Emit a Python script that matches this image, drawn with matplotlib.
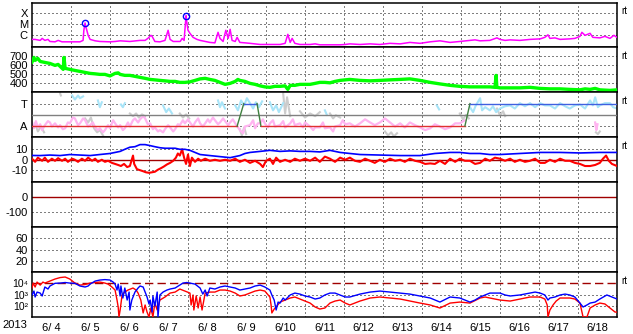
import numpy as np
import matplotlib
matplotlib.use("Agg")
import matplotlib.pyplot as plt

plt.rcParams['font.family'] = ['Liberation Sans', 'DejaVu Sans']
plt.rcParams['axes.unicode_minus'] = False

# ---------------- data (time in days since 2013-06-04 00:00) ----------------
year_label = '2013'
day_labels = ['6/ 4', '6/ 5', '6/ 6', '6/ 7', '6/ 8', '6/ 9', '6/10', '6/11',
              '6/12', '6/13', '6/14', '6/15', '6/16', '6/17', '6/18']

# Panel 1: X-ray flux (W/m2)
xray_t = [0.00, 0.08, 0.21, 0.26, 0.33, 0.41, 0.46, 0.59, 0.67, 0.77, 0.97, 1.10, 1.23, 1.31,
          1.33, 1.36, 1.385, 1.44, 1.49, 1.62, 1.74, 2.00, 2.13, 2.26, 2.51, 2.77, 2.90, 2.97,
          3.05, 3.08, 3.15, 3.28, 3.41, 3.49, 3.54, 3.62, 3.80, 3.85, 3.90, 3.92, 3.95, 3.97,
          4.00, 4.05, 4.13, 4.23, 4.31, 4.56, 4.69, 4.77, 4.82, 4.90, 4.97, 5.03, 5.08, 5.13,
          5.21, 5.26, 5.33, 5.46, 5.59, 5.85, 6.10, 6.36, 6.49, 6.56, 6.62, 6.67, 6.74, 6.87,
          7.13, 7.26, 7.38, 7.64, 7.90, 8.03, 8.15, 8.41, 8.67, 8.92, 9.18, 9.44, 9.69, 9.95,
          10.21, 10.46, 10.72, 10.97, 11.23, 11.36, 11.49, 11.74, 11.92, 12.00, 12.13, 12.26,
          12.51, 12.77, 13.03, 13.15, 13.23, 13.28, 13.41, 13.54, 13.79, 13.92, 14.05, 14.10,
          14.18, 14.31, 14.38, 14.56, 14.69, 14.82, 14.92, 15.00]
xray_v = [4.3e-7, 4.3e-7, 3.5e-7, 5.3e-7, 3.5e-7, 4.3e-7, 2.8e-7, 2.6e-7, 3.5e-7, 2.6e-7, 2.6e-7,
          2.6e-7, 2.6e-7, 3.5e-7, 2.85e-6, 1.3e-5, 5.3e-6, 1.0e-6, 4.3e-7, 3.2e-7, 2.8e-7, 2.6e-7,
          2.8e-7, 3.2e-7, 2.8e-7, 3.5e-7, 3.5e-7, 5.3e-7, 1.0e-6, 8.1e-7, 2.8e-7, 2.6e-7, 3.5e-7,
          2.85e-6, 4.3e-7, 2.8e-7, 2.8e-7, 5.3e-7, 3.5e-7, 2.85e-6, 5.9e-5, 1.5e-5, 2.85e-6,
          1.52e-6, 6.6e-7, 4.3e-7, 3.5e-7, 2.3e-7, 2.1e-7, 1.87e-6, 5.3e-7, 2.8e-7, 2.85e-6,
          5.3e-7, 3.5e-6, 3.5e-7, 2.8e-7, 6.6e-7, 2.3e-7, 2.1e-7, 1.9e-7, 1.5e-7, 1.5e-7, 1.5e-7,
          1.9e-7, 1.23e-6, 2.3e-7, 5.3e-7, 1.9e-7, 1.5e-7, 1.5e-7, 1.7e-7, 1.4e-7, 1.4e-7, 1.4e-7,
          1.5e-7, 1.7e-7, 1.5e-7, 1.7e-7, 1.5e-7, 1.9e-7, 1.7e-7, 2.3e-7, 1.9e-7, 2.6e-7, 3.2e-7,
          2.3e-7, 2.8e-7, 3.5e-7, 3.9e-7, 3.2e-7, 3.5e-7, 5.9e-7, 4.3e-7, 3.5e-7, 3.9e-7, 3.5e-7,
          4.3e-7, 4.8e-7, 6.6e-7, 1.11e-6, 5.3e-7, 5.9e-7, 4.3e-7, 4.8e-7, 5.3e-7, 8.1e-7, 1.87e-6,
          1.0e-6, 1.52e-6, 6.6e-7, 5.9e-7, 8.1e-7, 5.3e-7, 1.0e-6, 6.6e-7]
flare_t = [1.36, 3.95]
flare_v = [1.3e-5, 5.9e-5]
xray_ticks = [1e-6, 1e-5, 1e-4]
xray_labels = ['C', 'M', 'X']

# Panel 2: solar wind speed (km/s)
speed_t = [0.00, 0.05, 0.08, 0.15, 0.21, 0.33, 0.46, 0.59, 0.67, 0.72, 0.80, 0.82, 0.85, 0.97,
           1.10, 1.23, 1.36, 1.49, 1.62, 1.74, 1.87, 2.00, 2.13, 2.21, 2.26, 2.38, 2.51, 2.64,
           2.77, 2.90, 3.03, 3.15, 3.28, 3.41, 3.54, 3.67, 3.79, 3.92, 4.05, 4.18, 4.31, 4.44,
           4.56, 4.69, 4.82, 4.95, 5.08, 5.21, 5.28, 5.33, 5.46, 5.59, 5.72, 5.85, 5.97, 6.10,
           6.23, 6.36, 6.49, 6.56, 6.62, 6.74, 6.87, 7.13, 7.26, 7.38, 7.51, 7.64, 7.77, 7.90,
           8.03, 8.15, 8.41, 8.67, 8.92, 9.18, 9.44, 9.69, 9.95, 10.21, 10.46, 10.72, 10.97,
           11.23, 11.49, 11.74, 11.87, 11.90, 11.92, 12.00, 12.26, 12.51, 12.77, 13.03, 13.28,
           13.54, 13.79, 14.05, 14.18, 14.31, 14.44, 14.56, 14.82, 15.00]
speed_v = [637, 689, 656, 678, 644, 633, 622, 600, 611, 589, 556, 689, 567, 556,
           544, 533, 522, 511, 506, 500, 500, 483, 511, 517, 500, 489, 489, 478,
           467, 456, 444, 439, 433, 428, 422, 422, 411, 411, 417, 433, 450, 456,
           444, 433, 411, 389, 400, 422, 444, 433, 422, 400, 389, 372, 361, 356,
           367, 367, 372, 333, 378, 378, 389, 389, 400, 411, 411, 406, 422, 433,
           439, 444, 433, 428, 433, 439, 444, 450, 433, 411, 394, 378, 367,
           361, 361, 361, 356, 489, 356, 350, 350, 350, 356, 344, 339,
           339, 333, 328, 339, 333, 344, 328, 322, 328]
speed_ticks = [400, 500, 600, 700]

# Panel 3: A / T indicator and scattered points (scaled 0..1)
state_levels = {'A': 0.25, 'T': 0.75}
state_t = [0.0, 5.26, 5.43, 5.77, 5.87, 11.10, 11.23, 15.0]
state_s = ['A', 'A', 'T', 'T', 'A', 'A', 'T', 'T']
mid_level = 0.5
pink_t = [0.00, 0.05, 0.10, 0.15, 0.21, 0.26, 0.33, 0.41, 0.46, 0.51, 0.59, 0.67, 0.72, 0.79,
          0.85, 0.92, 0.97, 1.05, 1.10, 1.18, 1.23, 1.31, 1.36, 1.44, 1.49, 1.56, 1.62, 1.69,
          1.74, 1.82, 1.87, 1.95, 2.00, 2.08, 2.13, 2.21, 2.26, 2.33, 2.38, 2.46, 2.51, 2.59,
          2.64, 2.72, 2.77, 2.85, 2.90, 2.97, 3.03, 3.10, 3.15, 3.23, 3.28, 3.36, 3.41, 3.49,
          3.54, 3.62, 3.67, 3.74, 3.79, 3.87, 3.92, 4.00, 4.05, 4.13, 4.18, 4.26, 4.31, 4.38,
          4.44, 4.51, 4.56, 4.64, 4.69, 4.77, 4.82, 4.90, 4.95, 5.03, 5.08, 5.15, 5.21, 5.33,
          5.41, 5.46, 5.59, 5.67, 5.72, 5.79, 5.85, 5.92, 5.97, 6.05, 6.10, 6.18, 6.23, 6.36,
          6.44, 6.49, 6.62, 6.69, 6.74, 6.87, 6.95, 7.00, 7.13, 7.21, 7.26, 7.38, 7.46, 7.51,
          7.64, 7.72, 7.77, 7.90, 7.97, 8.03, 8.15, 8.28, 8.41, 8.54, 8.67, 8.79, 8.92, 9.05,
          9.18, 9.31, 9.44, 9.56, 9.69, 9.82, 9.95, 10.08, 10.21, 10.33, 10.46, 10.59, 10.72,
          10.85, 10.97, 11.10, 11.11, 14.44, 14.47, 14.50]
pink_v = [0.33, 0.20, 0.36, 0.22, 0.29, 0.16, 0.27, 0.36, 0.33, 0.24, 0.31, 0.22, 0.27, 0.18,
          0.20, 0.33, 0.31, 0.44, 0.42, 0.27, 0.31, 0.42, 0.38, 0.24, 0.27, 0.33, 0.22, 0.16,
          0.20, 0.11, 0.16, 0.27, 0.20, 0.38, 0.31, 0.22, 0.27, 0.16, 0.20, 0.33, 0.24, 0.38,
          0.42, 0.33, 0.40, 0.47, 0.42, 0.29, 0.31, 0.18, 0.22, 0.13, 0.16, 0.11, 0.18, 0.27,
          0.22, 0.13, 0.18, 0.29, 0.27, 0.38, 0.31, 0.40, 0.33, 0.24, 0.33, 0.42, 0.31, 0.24,
          0.31, 0.40, 0.33, 0.44, 0.38, 0.29, 0.33, 0.42, 0.36, 0.27, 0.33, 0.40, 0.31, 0.16,
          0.09, 0.24, 0.27, 0.38, 0.20, 0.31, 0.31, 0.40, 0.31, 0.22, 0.31, 0.38, 0.24, 0.27,
          0.36, 0.22, 0.31, 0.40, 0.27, 0.31, 0.22, 0.33, 0.24, 0.16, 0.22, 0.22, 0.33, 0.20,
          0.22, 0.13, 0.24, 0.27, 0.38, 0.29, 0.31, 0.24, 0.31, 0.40, 0.33, 0.27, 0.33, 0.42,
          0.33, 0.24, 0.31, 0.22, 0.33, 0.27, 0.22, 0.16, 0.20, 0.29, 0.24, 0.18, 0.22,
          0.31, 0.31, 0.38, np.nan, 0.33, 0.16, 0.29]
lblue_t = [1.03, 1.10, 1.18, 1.23, 1.31, np.nan, 1.69, 1.74, 1.79, np.nan, 2.28, 2.33, 2.38,
           np.nan, 3.36, 3.44, 3.51, 3.59, np.nan, 4.77, 4.82, 4.87, 4.95, np.nan,
           5.21, 5.28, 5.36, 5.44, 5.51, 5.59, 5.67, 5.74, 5.82, 5.90, np.nan,
           6.10, 6.18, 6.26, 6.33, 6.44, np.nan, 7.51, 7.56, np.nan, 10.38, 10.44, np.nan,
           11.23, 11.31, 11.38, 11.49, 11.54, 11.62, 11.74, 11.82, 11.90, 12.00, 12.13, 12.26,
           12.38, 12.51, 12.64, 12.77, 12.90, 13.03, 13.15, 13.28, 13.41, 13.54, 13.67, 13.79,
           13.92, 14.05, 14.18, 14.31, 14.38, 14.44, 14.51, 14.56, 14.69, 14.82, 14.90, 15.00]
lblue_v = [0.93, 0.84, 0.93, 0.87, 0.91, np.nan, 0.82, 0.67, 0.78, np.nan, 0.73, 0.67, 0.76,
           np.nan, 0.71, 0.56, 0.64, 0.53, np.nan, 0.82, 0.67, 0.78, 0.64, np.nan,
           0.71, 0.60, 0.82, 0.71, 0.87, 0.76, 0.64, 0.78, 0.67, 0.80, np.nan,
           0.78, 0.60, 0.71, 0.56, 0.76, np.nan, 0.60, 0.50, np.nan, 0.71, 0.62, np.nan,
           0.67, 0.56, 0.71, 0.87, 0.60, 0.67, 0.60, 0.69, 0.56, 0.64, 0.69, 0.71,
           0.64, 0.76, 0.69, 0.76, 0.67, 0.76, 0.71, 0.71, 0.64, 0.76, 0.69, 0.64,
           0.71, 0.73, 0.64, 0.82, 0.71, 0.89, 0.67, 0.71, 0.76, 0.76, 0.67, 0.64]
gray_t = [0.08, 0.15, 0.23, 0.31, np.nan, 0.72, 0.74, np.nan, 1.36, 1.44, 1.51, 1.59, 1.67,
          1.74, 1.82, np.nan, 2.51, 2.59, 2.67, 2.74, 2.82, 2.90, np.nan, 3.79, 3.87, 3.95,
          4.03, np.nan, 5.33, 5.38, 5.44, 5.49, np.nan, 6.44, 6.49, 6.54, 6.62, np.nan,
          6.87, 7.00, 7.13, 7.26, 7.38, np.nan, 7.64, 7.72, 7.79, 7.90, np.nan,
          9.05, 9.13, 9.21, 9.28, 9.36, np.nan, 10.97, 11.05, 11.13, 11.20, np.nan,
          11.92, 12.00, 12.08, 12.13, np.nan, 14.46, 14.51, 14.56]
gray_v = [0.31, 0.13, 0.24, 0.11, np.nan, 0.98, 0.93, np.nan, 0.42, 0.33, 0.44, 0.20, 0.11,
          0.16, 0.04, np.nan, 0.53, 0.47, 0.53, 0.44, 0.51, 0.47, np.nan, 0.53, 0.44, 0.51,
          0.42, np.nan, 0.18, 0.04, 0.22, 0.07, np.nan, 0.98, 0.53, 0.89, 0.47, np.nan,
          0.58, 0.44, 0.53, 0.47, 0.56, np.nan, 0.53, 0.42, 0.49, 0.44, np.nan,
          0.13, 0.04, 0.11, 0.02, 0.09, np.nan, 0.53, 0.40, 0.50, 0.42, np.nan,
          0.64, 0.49, 0.58, 0.47, np.nan, 0.11, 0.07, 0.13]

# Panel 4: magnetic field Bt (blue) and Bz (red), nT
bt_t = [0.00, 0.21, 0.46, 0.72, 0.97, 1.23, 1.49, 1.74, 2.00, 2.13, 2.26, 2.38, 2.51, 2.64,
        2.77, 2.90, 3.03, 3.15, 3.28, 3.41, 3.54, 3.67, 3.79, 3.92, 4.05, 4.18, 4.31, 4.56,
        4.82, 5.08, 5.33, 5.46, 5.59, 5.85, 6.10, 6.36, 6.62, 6.87, 7.13, 7.38, 7.64, 7.90,
        8.15, 8.41, 8.92, 9.44, 9.95, 10.33, 10.72, 10.97, 11.23, 11.49, 11.74, 12.00,
        12.51, 13.03, 13.54, 14.05, 14.56, 15.00]
bt_v = [4.1, 4.0, 4.5, 4.0, 5.0, 4.5, 4.0, 5.0, 6.0, 7.0, 8.0, 10.0, 12.0, 12.5,
        14.5, 14.5, 13.5, 12.5, 11.5, 11.0, 11.0, 11.0, 10.0, 10.0, 9.0, 7.0, 5.0, 4.0,
        3.0, 2.0, 4.0, 6.0, 7.0, 8.0, 9.0, 8.0, 8.5, 8.0, 8.0, 7.5, 9.0, 7.0,
        6.0, 5.0, 4.5, 4.0, 4.0, 6.0, 7.0, 7.0, 6.0, 6.0, 5.0, 5.0,
        6.0, 7.0, 7.0, 6.5, 7.0, 7.0]
bz_t = [0.00, 0.08, 0.15, 0.26, 0.33, 0.41, 0.51, 0.59, 0.67, 0.77, 0.85, 0.92, 1.03, 1.10,
        1.18, 1.28, 1.36, 1.44, 1.54, 1.62, 1.69, 1.79, 1.87, 1.95, 2.05, 2.13, 2.21, 2.28,
        2.36, 2.44, 2.51, 2.59, 2.62, 2.69, 2.77, 2.85, 2.92, 3.00, 3.08, 3.15, 3.23, 3.31,
        3.38, 3.46, 3.54, 3.62, 3.69, 3.74, 3.79, 3.85, 3.90, 3.95, 4.00, 4.05, 4.10, 4.18,
        4.26, 4.33, 4.44, 4.56, 4.69, 4.82, 4.95, 5.08, 5.21, 5.33, 5.46, 5.59, 5.72, 5.85,
        5.92, 6.00, 6.10, 6.18, 6.26, 6.36, 6.49, 6.62, 6.74, 6.87, 7.00, 7.13, 7.26, 7.38,
        7.51, 7.64, 7.77, 7.90, 8.03, 8.15, 8.28, 8.41, 8.54, 8.67, 8.79, 8.92, 9.05, 9.18,
        9.31, 9.44, 9.56, 9.69, 9.82, 9.95, 10.08, 10.21, 10.33, 10.46, 10.59, 10.72, 10.85,
        10.97, 11.10, 11.23, 11.36, 11.49, 11.62, 11.74, 11.87, 12.00, 12.13, 12.26, 12.38,
        12.51, 12.64, 12.77, 12.90, 13.03, 13.15, 13.28, 13.41, 13.54, 13.67, 13.79, 13.92,
        14.05, 14.18, 14.31, 14.44, 14.56, 14.64, 14.72, 14.79, 14.87, 15.00]
bz_v = [1, -2, 2, -1, 2, -2, 1, -1, 1.5, -1, 1, -2, 1, 0,
        -2, 1, -1, 2, -1, 1, -2, 0, -2, -1, -3, -4, -5, -6,
        -4, -7, -6, 4, -4, -9, -10, -11, -12, -12.5, -12, -11.5, -9.5, -8,
        -6.5, -4.5, -3, -1, 2, 6, 4, 10, 2, -4, 5, -6, 2, -2,
        1, -1, 1, -1, 0, -1, 0, -1, 1, -2, 0, -3, -1, -4,
        -7, -1, 1, -4, 2, -2, 0, -2, 1, -1, 1, -1, 2, -2,
        3, 1, -2, 2, 0, 2, -1, -2, 1, -1, -3, 0, -2, 1,
        -1, 0, -2, 1, -1, -2, -4, -3.5, -4, -1, -4, 1, -2,
        1, -1, -1, -4, -3, 1, -1, 2, 1, -1, 1, -2,
        0, -2, -1, 1, -3, -3, 0, -2, 1, -1, -1, -3,
        -4, -6, -6, -5, -3, 1, 4, -1, -4, -6]
bfield_ticks = [-10, 0, 10]

# Panel 5 and 6: axis scales only
p5_ticks = [-100, 0]
p6_ticks = [20, 40, 60]

# Panel 7: electron flux (log10), blue and red satellites
eb_t = [0.00, 0.05, 0.08, 0.13, 0.21, 0.26, 0.33, 0.41, 0.46, 0.59, 0.72, 0.85, 0.97, 1.10,
        1.23, 1.36, 1.44, 1.49, 1.62, 1.74, 1.87, 2.00, 2.08, 2.13, 2.18, 2.21, 2.26, 2.28,
        2.33, 2.38, 2.44, 2.49, 2.51, 2.56, 2.64, 2.72, 2.77, 2.85, 2.90, 2.95, 3.00, 3.03,
        3.08, 3.10, 3.15, 3.21, 3.23, 3.28, 3.36, 3.46, 3.54, 3.67, 3.79, 3.87, 3.97, 4.05,
        4.18, 4.31, 4.38, 4.44, 4.49, 4.56, 4.69, 4.82, 4.95, 5.08, 5.21, 5.33, 5.46, 5.59,
        5.72, 5.85, 5.97, 6.10, 6.15, 6.21, 6.26, 6.31, 6.36, 6.44, 6.49, 6.62, 6.74, 6.87,
        7.00, 7.13, 7.26, 7.38, 7.51, 7.64, 7.77, 7.90, 8.03, 8.15, 8.41, 8.67, 8.92, 9.18,
        9.44, 9.69, 9.95, 10.21, 10.46, 10.72, 10.97, 11.23, 11.36, 11.49, 11.62, 11.74,
        12.00, 12.13, 12.26, 12.51, 12.77, 12.90, 13.03, 13.15, 13.23, 13.28, 13.41, 13.54,
        13.67, 13.79, 13.92, 14.05, 14.13, 14.23, 14.31, 14.44, 14.56, 14.74, 14.87, 15.00]
eb_log = [2.96, 3.31, 2.78, 3.22, 3.13, 2.87, 3.67, 3.49, 3.76, 4.00, 4.02, 4.07, 4.02, 4.00,
          3.76, 3.67, 3.76, 3.93, 4.20, 4.29, 4.33, 4.29, 4.11, 3.93, 3.40, 3.93, 2.87, 3.76,
          2.69, 3.58, 2.51, 3.22, 1.62, 2.51, 3.22, 3.58, 3.76, 3.67, 3.22, 2.78, 2.16, 2.51,
          1.44, 2.87, 1.98, 3.22, 1.00, 2.96, 3.22, 3.40, 3.49, 3.58, 3.84, 4.02, 4.07, 4.02,
          3.93, 3.58, 3.04, 3.40, 2.87, 3.58, 3.49, 3.67, 3.76, 3.67, 3.58, 3.40, 3.49, 3.58,
          3.76, 3.84, 3.67, 3.40, 2.96, 2.51, 1.62, 2.33, 2.24, 2.69, 2.51, 2.96, 3.13, 3.04,
          2.87, 2.78, 2.60, 2.69, 2.96, 3.13, 3.13, 2.96, 2.78, 2.78, 3.04, 3.22, 3.31, 3.22,
          3.13, 3.04, 2.87, 2.69, 2.33, 2.78, 2.69, 2.33, 2.51, 2.78, 2.96, 3.13,
          3.13, 2.96, 2.87, 2.96, 3.13, 3.22, 3.13, 2.96, 2.51, 2.69, 2.78, 2.96,
          3.04, 2.96, 2.78, 2.24, 1.89, 2.07, 2.24, 2.33, 2.60, 2.96, 2.78, 2.60]
er_t = [0.00, 0.03, 0.08, 0.13, 0.21, 0.28, 0.33, 0.46, 0.59, 0.72, 0.85, 0.97, 1.10, 1.23,
        1.36, 1.49, 1.62, 1.74, 1.87, 1.95, 2.05, 2.13, 2.18, 2.21, 2.23, 2.26, 2.31, 2.38,
        2.46, 2.59, 2.67, 2.72, 2.79, 2.85, 2.90, 2.95, 3.00, 3.05, 3.10, 3.15, 3.21, 3.28,
        3.41, 3.54, 3.67, 3.79, 3.92, 4.05, 4.08, 4.13, 4.15, 4.21, 4.26, 4.31, 4.36, 4.44,
        4.56, 4.69, 4.82, 4.95, 5.08, 5.21, 5.33, 5.46, 5.59, 5.72, 5.85, 5.97, 6.10, 6.13,
        6.15, 6.21, 6.26, 6.36, 6.49, 6.62, 6.74, 6.87, 7.00, 7.13, 7.26, 7.38, 7.51, 7.64,
        7.77, 7.90, 8.03, 8.15, 8.41, 8.67, 8.92, 9.18, 9.44, 9.69, 9.95, 10.21, 10.46, 10.72,
        10.97, 11.23, 11.49, 11.62, 11.74, 12.00, 12.26, 12.51, 12.77, 13.03, 13.15, 13.21,
        13.23, 13.28, 13.36, 13.44, 13.54, 13.79, 13.92, 14.05, 14.10, 14.13, 14.23, 14.31,
        14.44, 14.56, 14.69, 14.82, 14.95, 15.00]
er_log = [3.58, 4.02, 3.67, 4.11, 3.84, 4.11, 4.02, 4.20, 4.38, 4.51, 4.56, 4.38, 4.02, 3.84,
          3.89, 4.02, 4.07, 4.11, 4.02, 3.93, 3.67, 3.40, 2.51, 1.89, 1.00, 1.62, 2.96, 3.22,
          3.40, 3.58, 3.40, 3.13, 2.51, 1.36, 2.07, 1.44, 1.00, 1.80, 1.00, 2.24, 1.62, 2.51,
          2.78, 3.13, 3.22, 3.49, 3.31, 3.13, 2.07, 2.96, 1.62, 2.87, 1.80, 2.78, 1.62, 3.13,
          3.22, 3.22, 3.40, 3.40, 3.31, 3.13, 2.87, 2.96, 3.13, 3.31, 3.40, 3.31, 2.78, 2.07,
          1.36, 1.71, 1.89, 2.33, 2.51, 2.69, 2.78, 2.60, 2.42, 2.24, 1.89, 1.71, 1.80, 2.24,
          2.42, 2.51, 2.24, 2.07, 2.42, 2.69, 2.78, 2.69, 2.60, 2.42, 2.24, 2.07, 1.80, 2.24,
          2.33, 2.24, 2.69, 2.78, 2.69, 2.51, 2.42, 2.60, 2.78, 2.78, 2.60, 2.07,
          1.00, 1.62, 2.07, 2.42, 2.69, 2.69, 2.60, 2.24, 1.44, 1.00, 1.00, 1.80,
          2.07, 2.24, 2.16, 1.80, 1.44, 1.44]
e_threshold = 1e4
e_ticks = [1e2, 1e3, 1e4]
e_labels = ['10\u00b2', '10\u00b3', '10\u2074']

# ---------------- figure ----------------
W, H = 633, 334
fig = plt.figure(figsize=(W / 100, H / 100), dpi=100)
left, right = 32 / W, 617 / W
top, bottom = 1 - 2.5 / H, 1 - 317 / H
axes = fig.subplots(7, 1, sharex=True,
                    gridspec_kw=dict(hspace=0, left=left, right=right, top=top, bottom=bottom))

FS = 8
dot = dict(color='black', lw=0.72, linestyle=(0, (1, 3)), zorder=1)
MAG, GRN, BLU, RED, DRED = '#ff00ff', '#00ff00', '#0000ff', '#ff0000', '#a00000'

for ax in axes:
    ax.set_xlim(0, 15)
    for k in range(1, 15):
        ax.axvline(k, **dot)
    for s in ax.spines.values():
        s.set_linewidth(1.1)
        s.set_color('black')
    ax.tick_params(axis='both', length=0, labelsize=FS, pad=3)
    ax.tick_params(axis='x', labelbottom=False)

def hgrid(ax, vals):
    for v in vals:
        ax.axhline(v, **dot)

# Panel 1
ax = axes[0]
ax.set_yscale('log')
ax.set_ylim(10 ** -7.09, 10 ** -3.04)
hgrid(ax, xray_ticks)
ax.plot(xray_t, xray_v, color=MAG, lw=1.1, zorder=3)
ax.plot(flare_t, flare_v, 'o', ms=4.5, mfc='none', mec=BLU, mew=1.0, zorder=4)
ax.set_yticks(xray_ticks)
ax.set_yticklabels(xray_labels)
ax.minorticks_off()

# Panel 2
ax = axes[1]
ax.set_ylim(300, 800)
hgrid(ax, speed_ticks)
ax.plot(speed_t, speed_v, color=GRN, lw=2.4, zorder=3)
ax.set_yticks(speed_ticks)

# Panel 3
ax = axes[2]
ax.set_ylim(0, 1)
hgrid(ax, [state_levels['A'], state_levels['T']])
ax.plot(gray_t, gray_v, color='#cccccc', lw=1.5, zorder=2)
ax.plot(pink_t, pink_v, color='#ffb4f0', lw=1.6, zorder=2)
ax.plot(lblue_t, lblue_v, color='#a8e4f8', lw=1.5, zorder=2)
ax.axhline(mid_level, color='#808080', lw=1.0, zorder=3)
sv = [state_levels[s] for s in state_s]
for i in range(len(state_t) - 1):
    a, b = state_s[i], state_s[i + 1]
    col = '#e03030' if (a == b == 'A') else ('#4060e0' if a == b == 'T' else '#408040')
    ax.plot(state_t[i:i + 2], sv[i:i + 2], color=col, lw=1.0, zorder=4)
ax.set_yticks([state_levels['A'], state_levels['T']])
ax.set_yticklabels(['A', 'T'])

# Panel 4
ax = axes[3]
ax.set_ylim(-21.5, 21.5)
hgrid(ax, [-10, 10])
ax.axhline(0, color=DRED, lw=1.0, zorder=2)
ax.plot(bz_t, bz_v, color=RED, lw=1.5, zorder=3)
ax.plot(bt_t, bt_v, color=BLU, lw=1.2, zorder=4)
ax.set_yticks(bfield_ticks)

# Panel 5
ax = axes[4]
ax.set_ylim(-200, 100)
hgrid(ax, [-100])
ax.axhline(0, color=DRED, lw=1.0, zorder=2)
ax.set_yticks(p5_ticks)

# Panel 6
ax = axes[5]
ax.set_ylim(0, 80)
hgrid(ax, p6_ticks)
ax.set_yticks(p6_ticks)

# Panel 7
ax = axes[6]
ax.set_yscale('log')
ax.set_ylim(10, 1e5)
hgrid(ax, [1e2, 1e3])
ax.axhline(e_threshold, color=DRED, lw=1.0, dashes=(6, 3), zorder=2)
ax.plot(er_t, 10 ** np.array(er_log), color=RED, lw=1.0, zorder=3)
ax.plot(eb_t, 10 ** np.array(eb_log), color=BLU, lw=1.0, zorder=4)
ax.set_yticks(e_ticks)
ax.set_yticklabels(e_labels)
for lab in ax.get_yticklabels():
    lab.set_fontsize(7.5)
ax.minorticks_off()
ax.set_xticks([k + 0.5 for k in range(15)])
ax.set_xticklabels(day_labels)
ax.tick_params(axis='x', labelbottom=True, labelsize=FS, pad=4)
ax.text(-0.0285, -0.175, year_label, transform=ax.transAxes, ha='center', va='center', fontsize=FS)

# right-side "rt" markers
for i in [0, 1, 2, 3, 6]:
    axes[i].text(1.007, 0.8, 'rt', transform=axes[i].transAxes, ha='left', va='center', fontsize=7)

fig.savefig('out.png', dpi=100, facecolor='white')
